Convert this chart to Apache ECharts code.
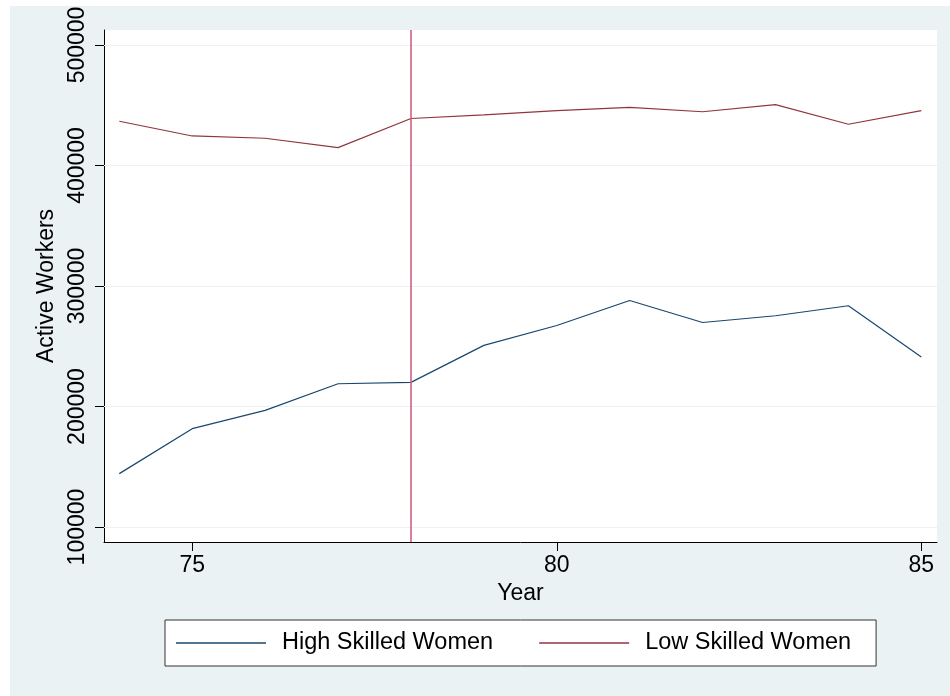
<!DOCTYPE html>
<html>
<head>
<meta charset="utf-8">
<script src="https://cdn.jsdelivr.net/npm/echarts@6/dist/echarts.min.js"></script>
<style>
html,body{margin:0;padding:0;background:#fff;}
#chart{width:950px;height:696px;}
</style>
</head>
<body>
<div id="chart"></div>
<script>
// Data
const years = [74, 75, 76, 77, 78, 79, 80, 81, 82, 83, 84, 85];
const highSkilled = [144300, 181600, 196800, 218900, 220000, 250700, 267200, 288000, 269700, 275300, 283600, 241000];
const lowSkilled  = [436700, 424500, 422600, 414800, 439000, 442000, 445500, 448300, 444600, 450500, 434200, 445500];
const xTicks = [75, 80, 85];
const yTicks = [100000, 200000, 300000, 400000, 500000];
const eventYear = 78;
const seriesNames = ['High Skilled Women', 'Low Skilled Women'];

const FONT = '"Liberation Sans", Arial, Helvetica, sans-serif';
const BG = '#EAF2F3';
const NAVY = '#1a476f';
const MAROON = '#90353b';

const chart = echarts.init(document.getElementById('chart'), null, {renderer: 'canvas'});

const option = {
  animation: false,
  backgroundColor: '#ffffff',
  graphic: [{
    type: 'rect', z: -100, silent: true,
    shape: {x: 10, y: 6, width: 940, height: 690},
    style: {fill: BG}
  }],
  grid: {
    left: 104, right: 13, top: 30, bottom: 154,
    show: true, backgroundColor: '#ffffff', borderWidth: 0
  },
  xAxis: {
    type: 'value', min: 73.79, max: 85.215,
    name: 'Year', nameLocation: 'middle', nameGap: 38,
    nameTextStyle: {fontFamily: FONT, fontSize: 23, color: '#000'},
    axisLine: {show: true, onZero: false, lineStyle: {color: '#000', width: 1}},
    axisTick: {show: true, length: 9, customValues: xTicks, lineStyle: {color: '#000', width: 1}},
    axisLabel: {customValues: xTicks, margin: 12, fontFamily: FONT, fontSize: 23, color: '#000',
      formatter: v => String(v)},
    splitLine: {show: false}
  },
  yAxis: {
    type: 'value', min: 87560, max: 512440,
    name: 'Active Workers', nameLocation: 'middle', nameGap: 44, nameRotate: 90,
    nameTextStyle: {fontFamily: FONT, fontSize: 23, color: '#000'},
    axisLine: {show: true, onZero: false, lineStyle: {color: '#000', width: 1}},
    axisTick: {show: true, length: 9, customValues: yTicks, lineStyle: {color: '#000', width: 1}},
    axisLabel: {customValues: yTicks, rotate: 90, margin: 15, fontFamily: FONT, fontSize: 23, color: '#000',
      formatter: v => String(Math.round(v))},
    splitLine: {show: false}
  },
  legend: {
    left: 165, top: 620,
    orient: 'horizontal',
    data: seriesNames,
    icon: 'rect', itemWidth: 90, itemHeight: 1.3, itemGap: 46,
    padding: [11, 25, 11, 11],
    borderColor: '#333', borderWidth: 1, backgroundColor: '#ffffff',
    textStyle: {fontFamily: FONT, fontSize: 23.5, color: '#000', padding: [0, 0, 0, 11]}
  },
  series: [
    {
      name: seriesNames[0], type: 'line', symbol: 'none',
      data: years.map((y, i) => [y, highSkilled[i]]),
      lineStyle: {color: NAVY, width: 1.2}, itemStyle: {color: NAVY},
      z: 3,
      markLine: {
        silent: true, symbol: 'none', label: {show: false},
        lineStyle: {color: BG, width: 1, type: 'solid'},
        data: yTicks.map(v => ({yAxis: v})),
        z: 1
      }
    },
    {
      name: seriesNames[1], type: 'line', symbol: 'none',
      data: years.map((y, i) => [y, lowSkilled[i]]),
      lineStyle: {color: MAROON, width: 1.2}, itemStyle: {color: MAROON},
      z: 3,
      markLine: {
        silent: true, symbol: 'none', label: {show: false},
        lineStyle: {color: '#d4607e', width: 1.6, type: 'solid'},
        data: [{xAxis: eventYear}],
        z: 4
      }
    }
  ]
};
chart.setOption(option);
</script>
</body>
</html>
